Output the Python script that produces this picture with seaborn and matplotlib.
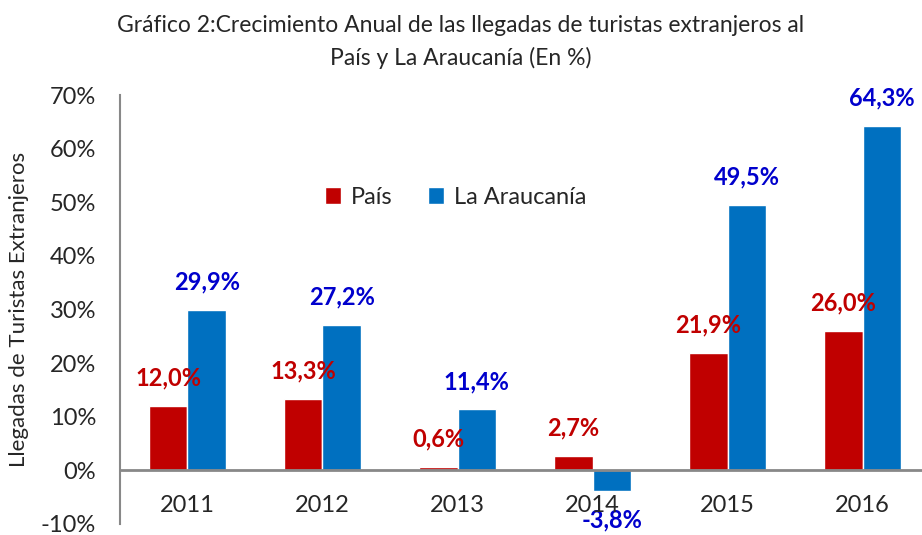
import matplotlib.pyplot as plt
import pandas as pd
import seaborn as sns

years = ["2011", "2012", "2013", "2014", "2015", "2016"]
pais = [12.0, 13.3, 0.6, 2.7, 21.9, 26.0]
araucania = [29.9, 27.2, 11.4, -3.8, 49.5, 64.3]
series = ["País", "La Araucanía"]

df = pd.DataFrame({
    "year": years * 2,
    "value": pais + araucania,
    "serie": [series[0]] * len(years) + [series[1]] * len(years),
})

sns.set_style("white")
plt.rcParams["font.family"] = ["Lato", "DejaVu Sans"]

fig = plt.figure(figsize=(9.22, 5.35), dpi=100)
ax = fig.add_axes([0.130, 0.0206, 0.879, 0.8018])

sns.barplot(data=df, x="year", y="value", hue="serie", palette=["#C00000", "#0070C0"],
            width=0.57, saturation=1, ax=ax)

label_colors = ["#C00000", "#0000CC"]
for cont, col in zip(ax.containers, label_colors):
    for bar in cont:
        h = bar.get_height()
        xc = bar.get_x() + bar.get_width() / 2
        off = 20 if h >= 0 else -21
        ax.annotate(f"{h:.1f}%".replace(".", ","), (xc, h), xytext=(0, off),
                    textcoords="offset points", ha="center", va="center",
                    fontsize=17, fontweight="bold", color=col)

ax.set_xlim(-0.5, 5.5)
ax.set_ylim(-10, 70)
ax.set_yticks(range(-10, 71, 10))
ax.set_yticklabels([f"{v}%" for v in range(-10, 71, 10)], fontsize=17)
ax.tick_params(axis="y", length=0, pad=17)

# x labels sit just under the zero line
ax.set_xticks(range(len(years)))
ax.set_xticklabels([])
ax.tick_params(axis="x", length=0)
for i, y in enumerate(years):
    ax.text(i, -6.5, y, ha="center", va="center", fontsize=17)

ax.axhline(0, color="#888888", lw=2, zorder=3)
for s in ["top", "right", "bottom"]:
    ax.spines[s].set_visible(False)
ax.spines["left"].set_color("#888888")
ax.spines["left"].set_linewidth(1.5)

ax.set_xlabel("")
ax.set_ylabel("Llegadas de Turistas Extranjeros", fontsize=16)
ax.yaxis.set_label_coords(-0.112, 0.5)

ax.legend(loc="center", bbox_to_anchor=(0.414, 0.762), ncol=2, frameon=False,
          fontsize=17, handlelength=0.7, handleheight=0.7, handletextpad=0.4,
          columnspacing=1.5)

fig.text(0.5, 0.953, "Gráfico 2:Crecimiento Anual de las llegadas de turistas extranjeros al",
         ha="center", va="center", fontsize=16.5)
fig.text(0.5, 0.892, "País y La Araucanía (En %)", ha="center", va="center", fontsize=16.5)

fig.savefig("out.png", dpi=100)
